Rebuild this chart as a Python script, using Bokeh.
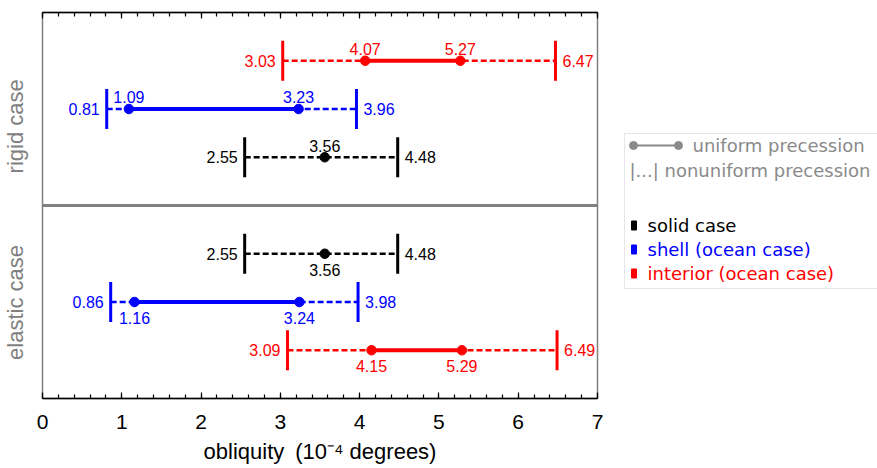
import math
from bokeh.plotting import figure
from bokeh.models import (Range1d, LinearAxis, SingleIntervalTicker, FixedTicker, Span)
from bokeh.layouts import row
from bokeh.embed import file_html
from bokeh.resources import INLINE
from bokeh.core.properties import value

# ---------------- data ----------------
cases = ["rigid", "rigid", "rigid", "elastic", "elastic", "elastic"]
bodies = ["interior", "shell", "solid", "solid", "shell", "interior"]
nonuni_lo = [3.03, 0.81, 2.55, 2.55, 0.86, 3.09]
uni_lo = [4.07, 1.09, 3.56, 3.56, 1.16, 4.15]
uni_hi = [5.27, 3.23, None, None, 3.24, 5.29]
nonuni_hi = [6.47, 3.96, 4.48, 4.48, 3.98, 6.49]
body_colors = {"solid": "#000000", "shell": "#0000ff", "interior": "#ff0000"}
x_ticks = [0, 1, 2, 3, 4, 5, 6, 7]
case_labels = ["rigid case", "elastic case"]
x_title = "obliquity\u2002(10\u207b\u2074 degrees)"
legend_style = ["uniform precession", "nonuniform precession"]
legend_bodies = ["solid", "shell", "interior"]
legend_body_text = ["solid case", "shell (ocean case)", "interior (ocean case)"]

FONT = value("Liberation Sans")

# row slots: rigid panel (upper) rows 7,6,5 ; elastic panel (lower) rows 3,2,1
ys = []
for i, c in enumerate(cases):
    ys.append(7 - i if c == "rigid" else 6 - i)
colors = [body_colors[b] for b in bodies]
BAR = 0.415

p = figure(width=612, height=468, x_range=Range1d(0, 7), y_range=Range1d(0, 8),
           x_axis_type=None, y_axis_type=None,
           output_backend="svg", toolbar_location=None,
           min_border_left=42, min_border_right=15,
           min_border_top=12, min_border_bottom=70)
p.outline_line_color = "#7f7f7f"
p.outline_line_width = 1.5
p.background_fill_color = "white"

common = dict(axis_line_color="black", axis_line_width=1.5,
              major_tick_in=6, major_tick_out=0,
              minor_tick_in=4, minor_tick_out=0,
              major_tick_line_width=1.2, minor_tick_line_width=1.2,
              major_tick_line_color="black", minor_tick_line_color="black",
              major_label_text_font="Liberation Sans",
              major_label_text_color="black")
bottom = LinearAxis(ticker=SingleIntervalTicker(interval=1, num_minor_ticks=5),
                    major_label_text_font_size="21px", major_label_standoff=16,
                    axis_label=x_title, axis_label_text_font="Liberation Sans",
                    axis_label_text_font_size="22px", axis_label_text_font_style="normal",
                    axis_label_text_color="black", axis_label_standoff=7, **common)
p.add_layout(bottom, "below")
top = LinearAxis(ticker=SingleIntervalTicker(interval=1, num_minor_ticks=5),
                 major_label_text_font_size="1px", major_label_standoff=0,
                 major_label_overrides={t: "" for t in x_ticks}, **common)
p.add_layout(top, "above")

# panel labels via a left axis
left = LinearAxis(ticker=FixedTicker(ticks=[1.99, 5.64]),
                  major_label_overrides={1.99: case_labels[1], 5.64: case_labels[0]},
                  major_label_orientation="vertical",
                  major_label_text_font="Liberation Sans",
                  major_label_text_font_size="22px",
                  major_label_text_color="#808080",
                  major_label_standoff=8,
                  axis_line_color=None, major_tick_line_color=None,
                  minor_tick_line_color=None)
p.add_layout(left, "left")

p.add_layout(Span(location=4, dimension="width", line_color="#808080", line_width=3))

# dashed nonuniform ranges
p.segment(x0=nonuni_lo, y0=ys, x1=nonuni_hi, y1=ys, line_color=colors,
          line_width=2.5, line_dash="6 3")
# solid uniform ranges
seg = [(a, b, y, c) for a, b, y, c in zip(uni_lo, uni_hi, ys, colors) if b is not None]
p.segment(x0=[s[0] for s in seg], y0=[s[2] for s in seg], x1=[s[1] for s in seg],
          y1=[s[2] for s in seg], line_color=[s[3] for s in seg], line_width=4)
# end bars
for xs in (nonuni_lo, nonuni_hi):
    p.segment(x0=xs, y0=[y - BAR for y in ys], x1=xs, y1=[y + BAR for y in ys],
              line_color=colors, line_width=3)
# dots
dx, dy, dc = [], [], []
for a, b, y, c in zip(uni_lo, uni_hi, ys, colors):
    for v in (a, b):
        if v is not None:
            dx.append(v); dy.append(y); dc.append(c)
p.scatter(dx, dy, size=9.5, color=dc)

# value labels
p.text(x=nonuni_lo, y=ys, text=[f"{v:.2f}" for v in nonuni_lo], text_color=colors,
       text_align="right", text_baseline="middle", x_offset=-7,
       text_font=FONT, text_font_size="16px")
p.text(x=nonuni_hi, y=ys, text=[f"{v:.2f}" for v in nonuni_hi], text_color=colors,
       text_align="left", text_baseline="middle", x_offset=7,
       text_font=FONT, text_font_size="16px")
lx, ly, lt, lc = [], [], [], []
for a, b, y, c, case in zip(uni_lo, uni_hi, ys, colors, cases):
    for v in (a, b):
        if v is not None:
            lx.append(v)
            ly.append(y + 0.24 if case == "rigid" else y - 0.33)
            lt.append(f"{v:.2f}")
            lc.append(c)
p.text(x=lx, y=ly, text=lt, text_color=lc, text_align="center",
       text_baseline="middle", text_font=FONT, text_font_size="16px")

# ---------------- legend panel ----------------
leg = figure(width=265, height=468, x_range=Range1d(0, 265), y_range=Range1d(398, 12),
             x_axis_type=None, y_axis_type=None, output_backend="svg",
             toolbar_location=None, min_border_left=0, min_border_right=0,
             min_border_top=12, min_border_bottom=70)
leg.outline_line_color = None
LFONT = value("DejaVu Sans")
GREY = "#8a8a8a"
leg.quad(left=12, right=300, top=133, bottom=288, fill_color=None,
         line_color="#e6e6e6", line_width=1)
leg.line([21, 66], [145, 145], line_color=GREY, line_width=2)
leg.scatter([21, 66], [145, 145], size=8, color=GREY)
leg.text(x=[80], y=[145], text=[legend_style[0]], text_color=GREY,
         text_baseline="middle", text_font=LFONT, text_font_size="18px")
leg.text(x=[17], y=[170], text=["|...| " + legend_style[1]], text_color=GREY,
         text_baseline="middle", text_font=LFONT, text_font_size="18px")
ly0 = [225, 249, 273]
leg.rect(x=[21.5] * 3, y=ly0, width=5, height=9,
         color=[body_colors[b] for b in legend_bodies])
leg.text(x=[35] * 3, y=ly0, text=legend_body_text,
         text_color=[body_colors[b] for b in legend_bodies],
         text_baseline="middle", text_font=LFONT, text_font_size="18px")

layout = row(p, leg)
open("out.html", "w").write(file_html(layout, INLINE))
